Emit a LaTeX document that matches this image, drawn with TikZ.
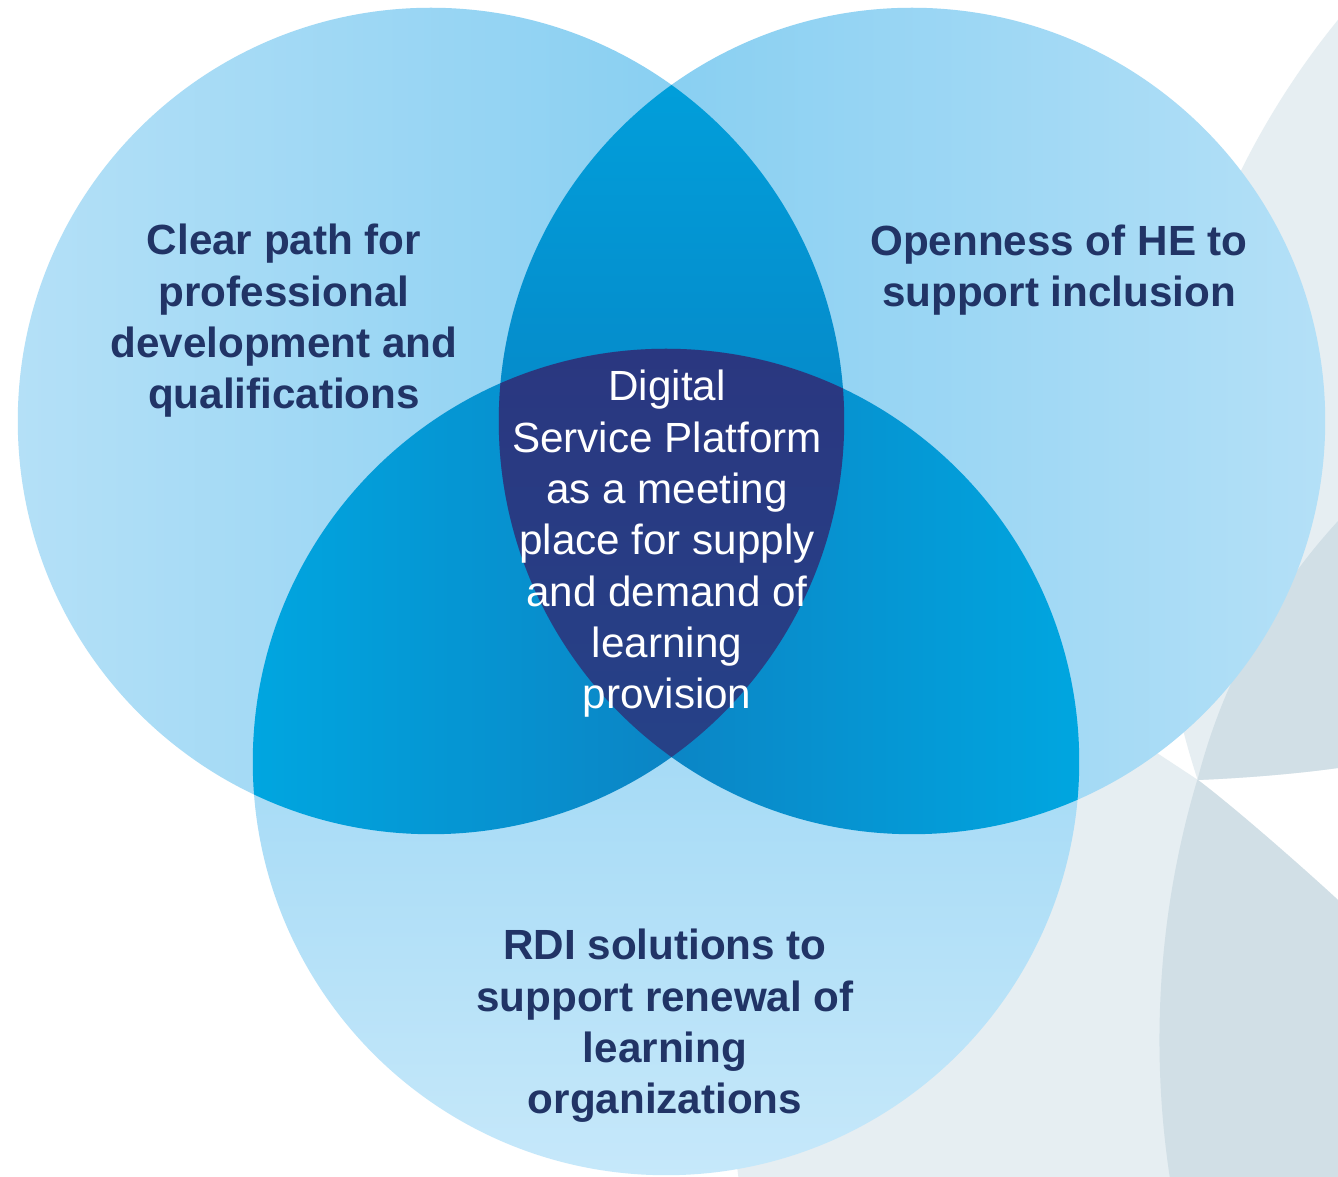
\documentclass[tikz,border=0pt]{standalone}
\usepackage{fontspec}
\setmainfont{Liberation Sans}
\definecolor{navytxt}{RGB}{33,52,102}
\definecolor{bgpale}{RGB}{230,238,242}
\definecolor{bgdark}{RGB}{209,223,230}
\definecolor{cLlight}{RGB}{180,224,247}
\definecolor{cLmid}{RGB}{126,203,240}
\definecolor{cBtop}{RGB}{135,206,242}
\definecolor{cBbot}{RGB}{198,232,250}
\definecolor{cLRtop}{RGB}{0,163,222}
\definecolor{cLRbot}{RGB}{12,112,180}
\definecolor{cCyan}{RGB}{0,166,224}
\definecolor{cDeep}{RGB}{22,100,170}
\definecolor{cCtop}{RGB}{42,55,128}
\definecolor{cCbot}{RGB}{33,76,143}
\tikzset{
  outer/.style={font=\fontsize{12}{14.6}\selectfont\bfseries, text=navytxt, align=center, inner sep=0pt},
  inner/.style={font=\fontsize{12}{14.6}\selectfont, text=white, align=center, inner sep=0pt}
}
\def\CL{(431,421) circle[radius=4.13cm]}
\def\CR{(912,421) circle[radius=4.13cm]}
\def\CB{(666,762) circle[radius=4.13cm]}
\begin{document}
\begin{tikzpicture}[x=0.01cm,y=-0.01cm]
\clip (0,0) rectangle (1338,1177);
\fill[white] (0,0) rectangle (1338,1177);
% background petals
\begin{scope}
  \clip (1100,-20) -- (1400,-20) -- (1400,760) -- (1338,768)
        .. controls (1295,774) and (1245,778) .. (1198,780) -- (1100,780) -- cycle;
  \fill[bgpale] (1963,528) circle[radius=8.05cm];
  \fill[bgdark] (1783,930) circle[radius=6.04cm];
\end{scope}
\fill[bgpale] (1198,780) -- (1160,755) -- (1000,650) -- (700,800) -- (735,1150)
  -- (740,1190) -- (1400,1190) -- (1400,955) -- (1338,900)
  .. controls (1300,865) and (1235,808) .. (1198,780) -- cycle;
\begin{scope}
  \clip (1198,780) .. controls (1235,808) and (1300,865) .. (1338,900)
        -- (1400,955) -- (1400,1190) -- (1100,1190) -- (1100,780) -- cycle;
  \fill[bgdark] (2068,1040) circle[radius=9.08cm];
\end{scope}
% three circles
\shade[left color=cLlight, right color=cLmid] \CL;
\shade[left color=cLmid, right color=cLlight] \CR;
\shade[top color=cBtop, bottom color=cBbot] \CB;
% pairwise overlaps
\begin{scope}
  \clip \CL;
  \shade[top color=cLRtop, bottom color=cLRbot] \CR;
\end{scope}
\begin{scope}
  \clip \CL;
  \shade[left color=cCyan, right color=cDeep] \CB;
\end{scope}
\begin{scope}
  \clip \CR;
  \shade[left color=cDeep, right color=cCyan] \CB;
\end{scope}
% triple overlap
\begin{scope}
  \clip \CL; \clip \CR;
  \shade[top color=cCtop, bottom color=cCbot] \CB;
\end{scope}
% labels
\node[outer] (tl) at (284,321) {Clear path for\\professional\\development and\\qualifications};
\node[outer] (tr) at (1059,270) {Openness of HE to\\support inclusion};
\node[inner] (ctr) at (667,544) {Digital\\Service Platform\\as a meeting\\place for supply\\and demand of\\learning\\provision};
\node[outer] (bt) at (665,1026) {RDI solutions to\\support renewal of\\learning\\organizations};
\end{tikzpicture}
\end{document}
